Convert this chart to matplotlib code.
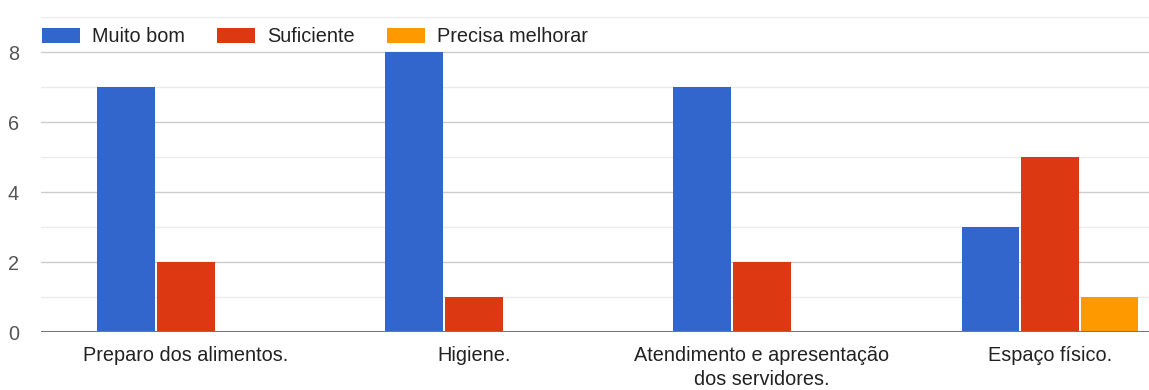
import numpy as np
import matplotlib.pyplot as plt

categories = ["Preparo dos alimentos.", "Higiene.", "Atendimento e apresentação\ndos servidores.", "Espaço físico."]
series_names = ["Muito bom", "Suficiente", "Precisa melhorar"]
muito_bom = [7, 8, 7, 3]
suficiente = [2, 1, 2, 5]
precisa_melhorar = [0, 0, 0, 1]
colors = ["#3366cc", "#dc3912", "#ff9900"]

plt.rcParams['font.family'] = ['Liberation Sans', 'DejaVu Sans']

fig = plt.figure(figsize=(11.49, 3.9), dpi=100)
ax = fig.add_axes([41 / 1149, (390 - 332) / 390, 1 - 41 / 1149, (332 - 17) / 390])

x = np.arange(len(categories))
w = 0.2
step = 0.207
for i, (vals, name) in enumerate(zip([muito_bom, suficiente, precisa_melhorar], series_names)):
    ax.bar(x + (i - 1) * step, vals, w, color=colors[i], label=name, zorder=3)

ax.set_xlim(-0.503, 3.344)
ax.set_ylim(0, 9)
ax.set_yticks([0, 2, 4, 6, 8])
ax.set_yticks(np.arange(0, 10, 1), minor=True)
ax.grid(axis='y', which='major', color='#cccccc', lw=1, zorder=0)
ax.grid(axis='y', which='minor', color='#ebebeb', lw=1, zorder=0)
ax.axhline(0, color='#777777', lw=1.5, zorder=4)
for s in ax.spines.values():
    s.set_visible(False)
ax.set_xticks(x)
ax.set_xticklabels(categories, fontsize=14.3, color='#222222', linespacing=1.35)
ax.tick_params(axis='both', which='both', length=0)
ax.tick_params(axis='y', labelsize=14.3, labelcolor='#555555', pad=16)
ax.tick_params(axis='x', pad=10, labelcolor='#222222')

ax.legend(loc='center left', bbox_to_anchor=(0.001, 0.937), ncol=3, frameon=False, fontsize=14.3,
          handlelength=1.9, handleheight=0.75, handletextpad=0.6, columnspacing=1.65,
          borderaxespad=0, borderpad=0, labelcolor='#222222')

fig.savefig("out.png", dpi=100)
